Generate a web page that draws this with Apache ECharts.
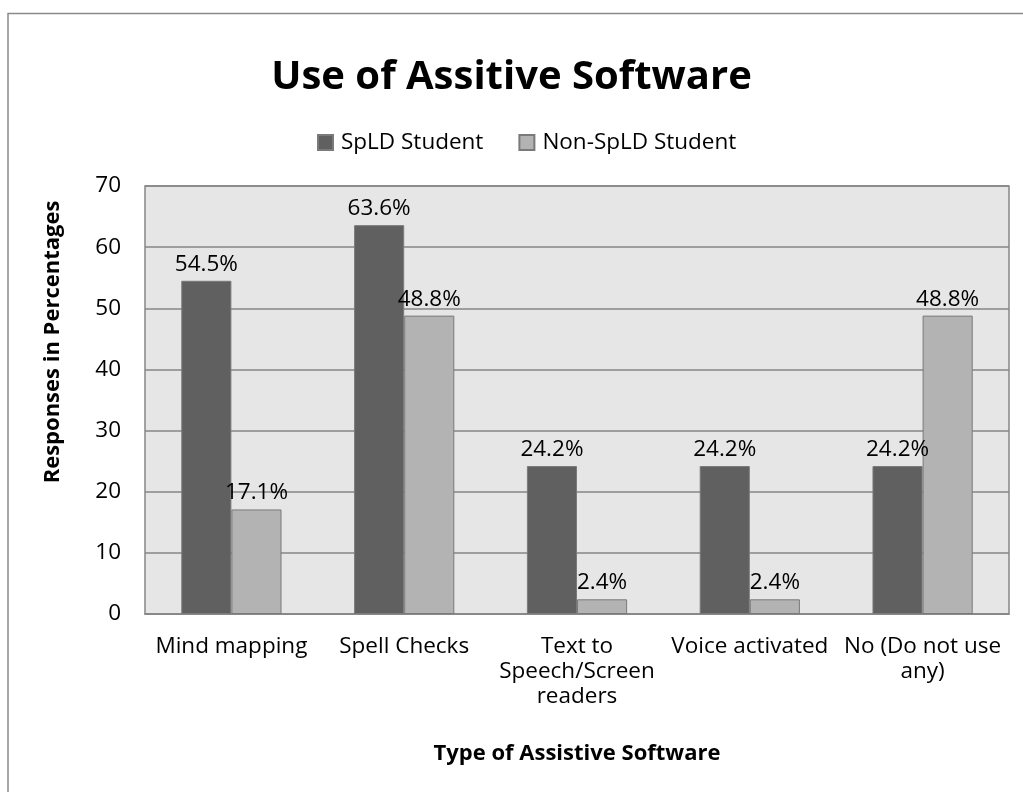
<!DOCTYPE html>
<html>
<head>
<meta charset="utf-8">
<script src="https://cdn.jsdelivr.net/npm/echarts@6/dist/echarts.min.js"></script>
<style>
html,body{margin:0;padding:0;background:#fff;}
#chart{width:1023px;height:792px;}
</style>
</head>
<body>
<div id="chart"></div>
<script>
const categories = ['Mind mapping', 'Spell Checks', 'Text to\nSpeech/Screen\nreaders', 'Voice activated', 'No (Do not use\nany)'];
const spldValues = [54.5, 63.6, 24.2, 24.2, 24.2];
const nonSpldValues = [17.1, 48.8, 2.4, 2.4, 48.8];
const yTicks = [0, 10, 20, 30, 40, 50, 60, 70];
const seriesNames = ['SpLD Student', 'Non-SpLD Student'];
const titleText = 'Use of Assitive Software';
const yAxisTitle = 'Responses in Percentages';
const xAxisTitle = 'Type of Assistive Software';

const FONT = '"Open Sans", "Noto Sans", sans-serif';
const FS = 22.5;
const FSB = 22;
const chart = echarts.init(document.getElementById('chart'), null, {renderer: 'canvas'});

const labelCfg = {
  show: true,
  position: 'top',
  distance: 5,
  formatter: p => p.value.toFixed(1) + '%',
  color: '#000',
  fontFamily: FONT,
  fontSize: FS
};

chart.setOption({
  backgroundColor: '#fff',
  animation: false,
  textStyle: {fontFamily: FONT},
  title: {
    text: titleText,
    left: 'center',
    top: 53,
    textStyle: {fontFamily: FONT, fontSize: 40, fontWeight: 'bold', color: '#000'}
  },
  legend: {
    data: seriesNames,
    top: 126,
    left: 312,
    itemWidth: 15,
    itemHeight: 15,
    itemGap: 35,
    icon: 'rect',
    textStyle: {fontFamily: FONT, fontSize: FS, color: '#000', padding: [0, 0, 0, 3]}
  },
  grid: {
    left: 145, right: 14, top: 186, bottom: 178,
    show: true,
    backgroundColor: '#e6e6e6',
    borderColor: '#868686',
    borderWidth: 1.5
  },
  xAxis: {
    type: 'category',
    data: categories,
    axisTick: {show: false},
    axisLine: {show: true, lineStyle: {color: '#868686', width: 1.5}},
    axisLabel: {
      interval: 0,
      color: '#000',
      fontFamily: FONT,
      fontSize: FS,
      lineHeight: 25,
      margin: 20
    },
    name: xAxisTitle,
    nameLocation: 'middle',
    nameGap: 129,
    nameTextStyle: {fontFamily: FONT, fontSize: FSB, fontWeight: 'bold', color: '#000'}
  },
  yAxis: {
    type: 'value',
    min: yTicks[0],
    max: yTicks[yTicks.length - 1],
    interval: 10,
    axisLine: {show: false},
    axisTick: {show: false},
    axisLabel: {color: '#000', fontFamily: FONT, fontSize: FS, margin: 24},
    splitLine: {show: true, lineStyle: {color: '#868686', width: 1.5}}
  },
  graphic: [
    {
      type: 'rect',
      silent: true,
      shape: {x: 8, y: 13.5, width: 1200, height: 1000},
      style: {fill: 'none', stroke: '#8a8a8a', lineWidth: 1.5},
      z: -10
    },
    {
      type: 'text',
      x: 53,
      y: 342,
      rotation: Math.PI / 2,
      style: {
        text: yAxisTitle,
        fontFamily: FONT,
        fontSize: FSB,
        fontWeight: 'bold',
        fill: '#000',
        align: 'center',
        verticalAlign: 'middle'
      }
    }
  ],
  series: [
    {
      name: seriesNames[0],
      type: 'bar',
      data: spldValues,
      barGap: '0%',
      barCategoryGap: '42%',
      itemStyle: {color: '#606060', borderColor: '#7a7a7a', borderWidth: 1},
      label: labelCfg
    },
    {
      name: seriesNames[1],
      type: 'bar',
      data: nonSpldValues,
      itemStyle: {color: '#b3b3b3', borderColor: '#7a7a7a', borderWidth: 1},
      label: labelCfg
    }
  ]
});
</script>
</body>
</html>
